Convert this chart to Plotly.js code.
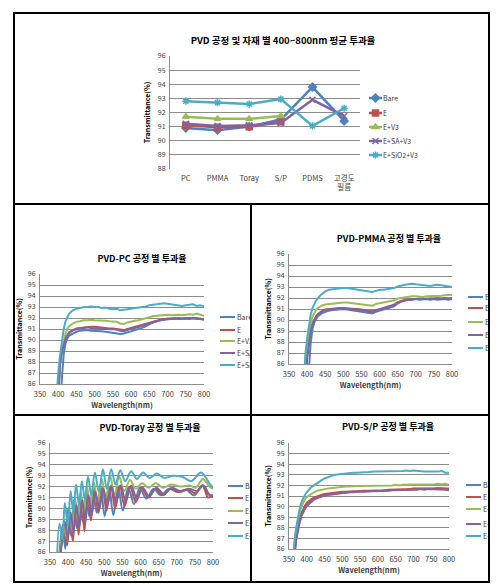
<!DOCTYPE html>
<html><head><meta charset="utf-8">
<script src="https://cdn.plot.ly/plotly-3.0.1.min.js"></script>
<style>
html,body{margin:0;padding:0;background:#fff;}
body{width:502px;height:588px;position:relative;overflow:hidden;}
.cell{position:absolute;overflow:hidden;background:#fff;}
.ln{position:absolute;background:#000;z-index:5;}
</style></head><body>
<div class="cell" style="left:14px;top:13px;width:475px;height:191px"><div id="g0"></div></div>
<div class="cell" style="left:14px;top:204px;width:237px;height:211px"><div id="g1"></div></div>
<div class="cell" style="left:251px;top:204px;width:238px;height:211px"><div id="g2"></div></div>
<div class="cell" style="left:14px;top:415px;width:237px;height:167px"><div id="g3"></div></div>
<div class="cell" style="left:251px;top:415px;width:238px;height:167px"><div id="g4"></div></div>
<div class="ln" style="left:13px;top:12px;width:477px;height:2px"></div>
<div class="ln" style="left:13px;top:581px;width:477px;height:2px"></div>
<div class="ln" style="left:13px;top:12px;width:2px;height:571px"></div>
<div class="ln" style="left:488px;top:12px;width:2px;height:571px"></div>
<div class="ln" style="left:13px;top:203px;width:477px;height:2px"></div>
<div class="ln" style="left:13px;top:414px;width:477px;height:2px"></div>
<div class="ln" style="left:250px;top:203px;width:2px;height:380px"></div>
<script>
// ---------- common ----------
const seriesNames = ['Bare','E','E+V3','E+SA+V3','E+SiO2+V3'];
const seriesColors = ['#4F81BD','#C0504D','#9BBB59','#8064A2','#4BACC6'];
const seriesSymbols = ['diamond','square','triangle-up','x-thin-open','asterisk-open'];

// ---------- top chart: average transmittance ----------
const materials = ['PC','PMMA','Toray','S/P','PDMS','고경도 필름'];
const materialLabels = ['PC','PMMA','Toray','S/P','PDMS','고경도<br>필름'];
const avgBare  = [90.9, 90.75, 91.0, 91.5, 93.8, 91.4];
const avgE     = [91.1, 90.95, 91.0, 91.35, null, null];
const avgEV3   = [91.7, 91.55, 91.55, 91.75, null, null];
const avgESAV3 = [91.2, 91.05, 91.1, 91.25, 92.9, 91.75];
const avgESiO2 = [92.8, 92.7, 92.6, 92.95, 91.05, 92.3];

// ---------- PC & PMMA spectra ----------
const specWl = [385,390,395,400,405,410,415,420,425,430,440,450,460,470,480,490,500,510,520,530,540,550,560,570,580,590,600,610,620,630,640,650,660,670,680,690,700,710,720,730,740,750,760,770,780,790,800];
const pcBare  = [70.0,72.5,75.5,79.0,83.0,86.5,88.7,89.7,90.15,90.4, 90.6,90.75,90.85,90.9,90.9,90.85,90.85,90.8,90.8,90.75, 90.7,90.65,90.6,90.55,90.6,90.7,90.8,90.85,91.0,91.1, 91.25,91.45,91.6,91.7,91.8,91.9,91.95,91.95,92.0,92.0, 91.95,92.0,91.95,92.0,91.95,91.9,91.85];
const pcE     = [76.5,79.5,83.0,86.2,88.0,89.0,89.7,90.15,90.45,90.7, 90.9,91.05,91.1,91.15,91.2,91.2,91.2,91.15,91.1,91.1, 91.05,91.05,91.0,90.95,90.9,91.0,91.1,91.2,91.25,91.35, 91.45,91.55,91.65,91.75,91.85,91.9,91.9,91.9,91.9,91.95, 91.9,91.95,92.0,91.95,92.0,91.9,91.9];
const pcEV3   = [78.0,80.5,83.5,85.6,87.6,89.0,90.0,90.6,91.0,91.25, 91.5,91.65,91.7,91.8,91.8,91.85,91.8,91.8,91.75,91.75, 91.7,91.7,91.65,91.5,91.45,91.6,91.7,91.75,91.8,91.9, 92.0,92.1,92.15,92.2,92.25,92.3,92.3,92.25,92.3,92.3, 92.25,92.3,92.35,92.3,92.4,92.3,92.2];
const pcESAV3 = [76.0,79.0,82.5,86.0,87.8,88.9,89.6,90.1,90.4,90.65, 90.85,91.0,91.1,91.1,91.15,91.1,91.1,91.05,91.05,91.0, 91.0,91.0,90.95,90.85,90.8,90.9,91.05,91.1,91.2,91.3, 91.4,91.5,91.6,91.75,91.8,91.85,91.9,91.9,91.95,91.9, 91.95,91.95,91.9,92.0,91.9,91.95,91.85];
const pcESiO2 = [80.0,82.5,84.8,87.0,88.6,89.9,91.0,91.7,92.1,92.4, 92.7,92.85,92.9,93.0,93.0,93.05,93.0,93.0,92.9,92.95, 92.85,92.8,92.85,92.7,92.75,92.8,92.85,92.85,92.95,93.0, 93.05,93.15,93.2,93.3,93.35,93.35,93.3,93.25,93.2,93.2, 93.1,93.15,93.2,93.25,93.1,93.15,93.05];

const pmBare  = [70.0,73.0,76.5,80.5,85.5,88.0,89.2,89.8,90.1,90.35, 90.6,90.75,90.85,90.9,90.95,91.0,91.0,90.95,90.9,90.85, 90.8,90.75,90.7,90.65,90.6,90.75,90.85,90.9,91.0,91.1, 91.25,91.5,91.7,91.8,91.85,91.9,91.9,91.85,91.9,91.9, 91.85,91.9,91.85,91.9,91.9,91.85,91.9];
const pmE     = [76.5,79.5,84.0,86.8,88.2,89.1,89.7,90.1,90.35,90.55, 90.8,90.95,91.0,91.05,91.1,91.1,91.1,91.05,91.05,91.0, 91.0,90.95,90.9,90.8,90.8,90.9,91.0,91.1,91.2,91.3, 91.4,91.6,91.75,91.8,91.85,91.9,91.9,91.95,91.9,91.95, 91.95,91.95,92.0,91.95,92.0,91.95,92.0];
const pmEV3   = [78.0,81.0,85.5,87.5,88.8,89.7,90.3,90.7,90.95,91.1, 91.3,91.4,91.45,91.5,91.55,91.6,91.6,91.6,91.55,91.55, 91.5,91.45,91.4,91.3,91.3,91.45,91.55,91.6,91.65,91.7, 91.8,91.95,92.0,92.1,92.15,92.15,92.15,92.1,92.1,92.15, 92.15,92.2,92.2,92.2,92.25,92.3,92.3];
const pmESAV3 = [76.0,79.0,83.5,86.5,88.0,89.0,89.6,90.0,90.3,90.5, 90.75,90.9,90.95,91.0,91.05,91.05,91.05,91.05,91.0,90.95, 90.95,90.9,90.85,90.75,90.75,90.85,91.0,91.05,91.15,91.25, 91.35,91.55,91.7,91.8,91.85,91.9,91.9,91.9,91.9,91.95, 91.9,91.95,91.9,91.95,91.95,91.9,91.95];
const pmESiO2 = [80.0,83.5,86.8,88.3,89.6,90.5,91.1,91.5,91.8,92.0, 92.35,92.6,92.75,92.8,92.85,92.85,92.9,92.9,92.85,92.85, 92.8,92.75,92.7,92.6,92.55,92.65,92.75,92.75,92.8,92.85, 92.9,93.05,93.15,93.2,93.25,93.3,93.25,93.2,93.2,93.15, 93.1,93.15,93.2,93.15,93.1,93.05,93.0];

// ---------- Toray spectra (fringe extrema) ----------
const tBareWl  = [370,377,385,392,400,408,416,424,432,440,449,458,468,479,490,501,513,525,538,551,566,582,598,616,636,656,678,702,726,748,770,785,800];
const tBare    = [83.5,86.2,88.5,86.3,90.0,87.5,90.8,88.2,91.2,88.8,91.5,89.3,91.7,89.6,91.8,89.3,91.9,89.4,92.0,89.8,91.9,90.4,91.9,90.9,91.8,91.2,91.8,91.5,91.7,91.2,92.1,91.3,91.2];
const tEWl     = [374,381,389,397,405,413,421,429,437,445,454,463,473,484,495,506,518,530,543,556,571,587,603,621,641,661,683,707,731,752,772,786,800];
const tE       = [84.0,86.5,88.0,86.6,89.2,87.0,90.2,87.6,90.8,87.9,91.5,88.9,91.8,89.6,92.0,89.8,92.1,90.0,92.1,90.2,92.0,90.6,91.9,91.0,91.8,91.2,91.8,91.5,91.7,91.4,92.1,91.0,91.2];
const tEV3Wl   = [372,380,388,396,404,411,419,427,435,443,452,461,471,482,493,504,516,528,541,555,571,587,604,622,642,662,685,710,735,752,772,790,800];
const tEV3     = [84.0,86.5,88.5,87.3,90.0,88.0,91.0,88.8,91.5,89.5,92.0,90.2,92.4,90.6,92.7,90.9,93.0,91.2,92.9,91.6,92.6,91.8,92.3,91.9,92.3,91.9,92.2,92.0,92.1,91.9,92.7,92.0,91.8];
const tESAV3Wl = [376,383,391,399,407,415,423,431,439,447,456,465,475,486,497,508,520,532,545,559,574,590,606,624,644,664,686,710,734,755,774,789,800];
const tESAV3   = [84.5,87.0,88.8,87.2,89.6,87.8,90.3,88.3,90.8,88.7,91.2,89.4,91.5,90.0,91.8,90.3,92.0,90.5,92.1,90.7,92.1,90.9,91.9,91.1,91.9,91.3,91.9,91.6,91.8,91.6,92.1,91.3,91.0];
const tESiO2Wl = [368,376,384,391,399,407,414,422,430,438,446,455,464,474,485,496,507,519,531,544,558,574,590,607,625,645,665,690,715,740,767,790,800];
const tESiO2   = [84.0,88.6,87.2,90.5,88.4,91.6,89.6,92.2,90.3,92.5,90.8,92.9,91.2,93.3,91.5,93.6,91.8,93.6,92.2,93.5,92.5,93.4,92.7,93.3,92.8,93.2,92.8,93.0,92.9,92.5,93.3,92.3,91.9];

// ---------- S/P spectra ----------
const spWl = [355,360,365,370,375,380,385,390,395,400,410,420,430,440,450,460,470,480,490,500,510,520,530,540,550,560,570,580,590,600,610,620,630,640,650,660,670,680,690,700,710,720,730,740,750,760,770,780,790,800];
const spBare  = [80.8,83.2,85.6,87.0,88.0,88.7,89.25,89.65,89.95,90.2, 90.55,90.75,90.9,91.0,91.1,91.15,91.2,91.25,91.3,91.3, 91.35,91.35,91.4,91.4,91.45,91.45,91.45,91.5,91.5,91.5, 91.5,91.55,91.55,91.55,91.6,91.6,91.6,91.6,91.65,91.65, 91.65,91.65,91.7,91.7,91.7,91.7,91.75,91.7,91.7,91.65];
const spE     = [81.0,83.5,85.8,87.2,88.2,88.9,89.4,89.8,90.1,90.35, 90.65,90.85,91.0,91.1,91.2,91.25,91.3,91.3,91.35,91.4, 91.4,91.45,91.45,91.45,91.5,91.5,91.5,91.5,91.55,91.55, 91.55,91.55,91.6,91.6,91.6,91.6,91.65,91.65,91.65,91.7, 91.7,91.7,91.7,91.75,91.7,91.75,91.75,91.7,91.75,91.7];
const spEV3   = [81.5,84.0,86.3,87.8,88.8,89.5,90.0,90.4,90.7,90.9, 91.15,91.35,91.5,91.6,91.65,91.7,91.75,91.8,91.85,91.85, 91.9,91.9,91.95,91.95,91.95,91.95,91.95,92.0,91.95,92.0, 92.0,92.0,92.0,92.0,92.05,92.0,92.05,92.05,92.05,92.1, 92.05,92.1,92.05,92.1,92.05,92.1,92.15,92.1,92.15,92.05];
const spESAV3 = [80.5,83.0,85.4,86.8,87.8,88.5,89.1,89.5,89.8,90.05, 90.4,90.65,90.8,90.95,91.05,91.1,91.15,91.2,91.25,91.3, 91.3,91.35,91.35,91.4,91.4,91.4,91.45,91.45,91.45,91.45, 91.5,91.5,91.5,91.55,91.55,91.55,91.6,91.6,91.6,91.6, 91.6,91.65,91.6,91.65,91.65,91.6,91.65,91.65,91.6,91.55];
const spESiO2 = [82.0,84.5,86.6,88.0,89.0,89.8,90.4,90.8,91.1,91.35, 91.75,92.0,92.25,92.45,92.65,92.8,92.9,93.0,93.05,93.1, 93.15,93.15,93.2,93.2,93.25,93.25,93.25,93.3,93.3,93.3, 93.3,93.3,93.35,93.3,93.35,93.35,93.35,93.4,93.35,93.4, 93.35,93.35,93.3,93.3,93.3,93.25,93.3,93.35,93.2,93.2];

// ---------- builders ----------
const FONT = '"Noto Sans CJK KR", "Noto Sans", sans-serif';
const GRID = '#8c8c8c';
const EXTRA = 160;

function shortenLegend(gd, x0, len, markerX) {
  gd.querySelectorAll('.legendlines path').forEach(p => p.setAttribute('d', 'M' + x0 + ',0h' + len));
  if (markerX !== undefined) {
    gd.querySelectorAll('.legendpoints .scatterpts').forEach(p => p.setAttribute('transform', 'translate(' + markerX + ',0)'));
  }
}

function build(id, cellW, H, m, traces, opt) {
  const W = cellW + EXTRA;
  const mm = {l:m.l, r:m.r + EXTRA, t:m.t, b:m.b, pad:0, autoexpand:false};
  const pw = W - mm.l - mm.r, ph = H - mm.t - mm.b;
  const px = v => (v - mm.l) / pw;
  const py = v => 1 - (v - mm.t) / ph;
  const layout = {
    width: W, height: H, margin: mm,
    paper_bgcolor: '#fff', plot_bgcolor: '#fff',
    font: {family: FONT, size: 7.5, color: '#404040'},
    showlegend: true,
    title: {text: '<b>' + opt.title + '</b>', font: {size: opt.titleSize, color: '#000', family: FONT},
            xref: 'paper', x: px(opt.titleX), xanchor: 'center', yref: 'container', y: 1 - opt.titleY / H, yanchor: 'middle'},
    xaxis: opt.xaxis,
    yaxis: Object.assign({range: [opt.ymin, 96], dtick: 1, tick0: 86, showgrid: true, gridcolor: GRID, gridwidth: 1,
            showline: true, linecolor: GRID, linewidth: 1, ticks: '', zeroline: false, fixedrange: true,
            tickfont: {size: 7, color: '#404040'}, ticklabelstandoff: 2,
            title: {text: '<b>Transmittance(%)</b>', font: {size: 7, color: '#000'}, standoff: opt.yStand}}, opt.yextra || {})
  };
  traces.forEach((tr, i) => {
    const key = i ? 'legend' + (i + 1) : 'legend';
    tr.legend = key;
    layout[key] = {x: px(opt.legX - 40), xanchor: 'left', y: py(opt.legY[i]), yanchor: 'middle',
                   bgcolor: 'rgba(0,0,0,0)', borderwidth: 0, font: {size: 7, color: '#404040', family: FONT}};
  });
  return Plotly.newPlot(id, traces, layout, {staticPlot: true, displayModeBar: false})
    .then(gd => { shortenLegend(gd, opt.legLine[0], opt.legLine[1], opt.legLine[2]); return gd; });
}

function specAxis(standoff) {
  return {range: [350, 800], dtick: 50, tick0: 350, showgrid: false, zeroline: false, ticks: '',
          showline: true, linecolor: GRID, linewidth: 1, fixedrange: true, ticklabelstandoff: 3,
          tickfont: {size: 7.5, color: '#404040'},
          title: {text: '<b>Wavelength(nm)</b>', font: {size: 7.5, color: '#404040'}, standoff: standoff}};
}

function specTraces(xs, ys, shape) {
  return ys.map((y, i) => ({
    x: Array.isArray(xs[0]) ? xs[i] : xs, y: y, name: seriesNames[i], type: 'scatter', mode: 'lines',
    line: {color: seriesColors[i], width: 2, shape: shape || 'linear', smoothing: 1}, cliponaxis: true
  }));
}

// top chart
const avgSeries = [avgBare, avgE, avgEV3, avgESAV3, avgESiO2];
const topTraces = avgSeries.map((y, i) => ({
  x: materials, y: y, name: seriesNames[i], type: 'scatter', mode: 'lines+markers',
  line: {color: seriesColors[i], width: 2.5},
  marker: {symbol: seriesSymbols[i], size: 6, color: seriesColors[i], line: {color: seriesColors[i], width: 1.5}}
}));
// single-line labels get an empty second line so every first line sits on the same baseline
const topTickText = materialLabels.map(s => s.indexOf('<br>') >= 0 ? s : s + '<br>\u00a0');
build('g0', 475, 191, {l: 156, r: 129, t: 43, b: 35}, topTraces, {
  title: 'PVD 공정 및 자재 별 400~800nm 평균 투과율', titleSize: 9.5, titleX: 269, titleY: 28,
  ymin: 88, yStand: 6, yextra: {range: [88, 96], tick0: 88},
  xaxis: {type: 'category', showgrid: false, zeroline: false, ticks: '', showline: false, fixedrange: true,
          range: [-0.5, 5.5], tickfont: {size: 7.5, color: '#404040'}, ticklabelstandoff: 3,
          tickmode: 'array', tickvals: materials, ticktext: topTickText},
  legX: 369, legY: [85, 100, 114, 128, 142], legLine: [26, 13, 32.5]
});

build('g1', 237, 211, {l: 26, r: 47, t: 70, b: 31},
  specTraces(specWl, [pcBare, pcE, pcEV3, pcESAV3, pcESiO2]), {
  title: 'PVD-PC 공정 별 투과율', titleSize: 9, titleX: 128, titleY: 55,
  ymin: 86, yStand: 4, xaxis: specAxis(2),
  legX: 223, legY: [113, 126, 137, 149, 161], legLine: [23, 15]
});

build('g2', 238, 211, {l: 38, r: 37, t: 50, b: 51},
  specTraces(specWl, [pmBare, pmE, pmEV3, pmESAV3, pmESiO2]), {
  title: 'PVD-PMMA 공정 별 투과율', titleSize: 9, titleX: 138, titleY: 35,
  ymin: 86, yStand: 4, xaxis: specAxis(2),
  legX: 234, legY: [93, 104, 118, 131, 144], legLine: [23, 15]
});

build('g3', 237, 167, {l: 36, r: 38, t: 28, b: 30},
  specTraces([tBareWl, tEWl, tEV3Wl, tESAV3Wl, tESiO2Wl], [tBare, tE, tEV3, tESAV3, tESiO2], 'spline'), {
  title: 'PVD-Toray 공정 별 투과율', titleSize: 9, titleX: 136, titleY: 13,
  ymin: 86, yStand: 4, xaxis: specAxis(2),
  legX: 231, legY: [71, 83, 96, 108, 121], legLine: [23, 15]
});

build('g4', 238, 167, {l: 38, r: 40, t: 28, b: 33},
  specTraces(spWl, [spBare, spE, spEV3, spESAV3, spESiO2]), {
  title: 'PVD-S/P 공정 별 투과율', titleSize: 9, titleX: 137, titleY: 12,
  ymin: 86, yStand: 4, xaxis: specAxis(2),
  legX: 232, legY: [70, 82, 94, 109, 121], legLine: [23, 15]
});
</script>
</body></html>
